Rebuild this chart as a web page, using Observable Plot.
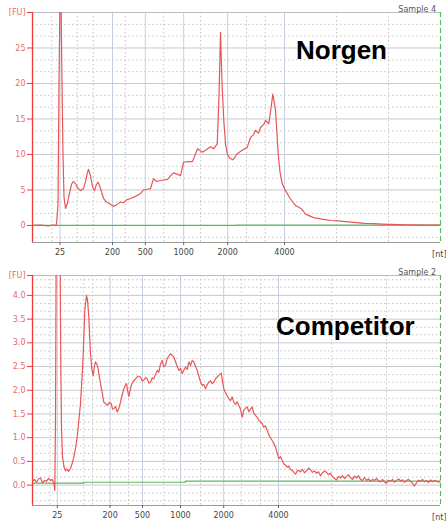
<!DOCTYPE html>
<html>
<head>
<meta charset="utf-8">
<script src="https://cdn.jsdelivr.net/npm/d3@7"></script>
<script src="https://cdn.jsdelivr.net/npm/@observablehq/plot@0.6"></script>
<style>
  body { margin: 0; background: #fff; }
  #wrap { position: relative; width: 446px; height: 522px; overflow: hidden; }
  #wrap svg { display: block; }
  .big { position: absolute; font-family: "Liberation Sans", Arial, sans-serif; font-weight: bold; font-size: 26px; color: #000; line-height: 1; }
  .sample { position: absolute; font-family: "DejaVu Sans", sans-serif; font-size: 8px; color: #555; line-height: 1; }
  .unit { position: absolute; font-family: "DejaVu Sans", sans-serif; font-size: 8px; color: #444; line-height: 1; }
</style>
</head>
<body>
<div id="wrap"></div>
<script>
// ---- Data (x = migration time in seconds, y = fluorescence units) ----
const ladderLabels = ["25", "200", "500", "1000", "2000", "4000"];
const topLadderTime = [22.44, 29.0, 33.1, 37.9, 43.4, 50.5];
const botLadderTime = [22.1, 28.7, 32.75, 37.5, 42.9, 49.75];
const xUnitLabel = "[nt]";

const topMinorTime = [21.4, 24.6, 26.6, 30.6, 35.4, 40.0, 45.75, 48.1, 57.0, 63.5];
const botMinorTime = [21.2, 25.4, 26.5, 31.0, 35.4, 40.0, 45.1, 47.5, 56.4, 63.25];

const topYTicks = [0, 5, 10, 15, 20, 25, 30];
const topYMinor = [-1.67, 1.67, 3.33, 6.67, 8.33, 11.67, 13.33, 16.67, 18.33, 21.67, 23.33, 26.67, 28.33];
const botYTicks = [0, 0.5, 1.0, 1.5, 2.0, 2.5, 3.0, 3.5, 4.0, 4.42];
const botYMinor = [-0.33, -0.17, 0.17, 0.33, 0.67, 0.83, 1.17, 1.33, 1.67, 1.83, 2.17, 2.33, 2.67, 2.83, 3.17, 3.33, 3.67, 3.83, 4.17, 4.33];

// Norgen sample
const norgenTime = [19.0, 20.0, 21.0, 21.63, 22.0, 22.19, 22.31, 22.44, 22.56, 22.69, 22.81, 22.94, 23.13, 23.38, 23.63, 23.88, 24.09, 24.38, 24.63, 25.0, 25.38, 25.63, 25.88, 26.0, 26.25, 26.5, 26.75, 27.0, 27.21, 27.5, 27.88, 28.25, 28.75, 29.13, 29.5, 30.0, 30.38, 30.75, 31.25, 31.88, 32.5, 32.88, 33.38, 33.75, 34.13, 34.5, 34.88, 35.38, 35.88, 36.25, 36.63, 37.13, 37.5, 37.88, 38.38, 39.0, 39.63, 40.25, 40.75, 41.25, 41.63, 42.09, 42.31, 42.5, 42.69, 42.91, 43.13, 43.34, 43.63, 44.04, 44.59, 45.21, 45.84, 46.25, 46.63, 46.88, 47.25, 47.5, 47.88, 48.13, 48.54, 48.81, 49.04, 49.38, 49.71, 49.94, 50.21, 50.63, 51.21, 51.88, 52.63, 53.13, 54.13, 55.38, 56.38, 57.5, 58.5, 59.5, 60.5, 61.63, 62.63, 63.75, 64.75, 65.75, 66.75, 67.75, 68.75, 69.88];
const norgenFU = [0, 0.05, -0.05, 0.05, 0.1, 3, 20, 32, 32, 20, 10, 4, 2.4, 3.2, 4.6, 5.8, 6.2, 5.9, 5.3, 4.9, 5.2, 6.2, 7.5, 7.9, 7.0, 5.5, 4.9, 5.8, 6.1, 5.2, 3.8, 3.3, 3.0, 2.7, 2.9, 3.3, 3.2, 3.6, 3.8, 4.1, 4.5, 5.0, 5.1, 5.2, 6.6, 6.2, 6.3, 6.4, 6.5, 7.0, 7.4, 7.2, 7.0, 8.9, 9.0, 9.0, 10.8, 10.3, 10.7, 11.1, 10.8, 11.5, 18, 27.2, 20, 14.8, 11.5, 10.1, 9.5, 9.25, 10.1, 10.6, 11.0, 12.4, 12.8, 13.4, 13.0, 13.8, 14.2, 14.8, 14.3, 16.5, 18.5, 16.2, 10.1, 7.5, 5.9, 4.9, 3.8, 2.8, 2.35, 1.6, 1.1, 0.85, 0.7, 0.6, 0.5, 0.4, 0.3, 0.25, 0.2, 0.15, 0.12, 0.1, 0.08, 0.05, 0.05, 0.05];
const norgenBaseTime = [19, 44.5, 70];
const norgenBaseFU = [0, 0.06, 0.06];

// Competitor sample
const compTime = [19.0, 19.25, 19.5, 19.75, 20.0, 20.25, 20.5, 20.75, 21.0, 21.25, 21.5, 21.69, 21.79, 21.88, 21.96, 22.19, 22.44, 22.54, 22.63, 22.75, 22.94, 23.13, 23.31, 23.5, 23.75, 24.0, 24.16, 24.38, 24.59, 24.79, 25.0, 25.19, 25.34, 25.54, 25.75, 25.88, 26.04, 26.25, 26.41, 26.59, 26.75, 26.88, 27.04, 27.16, 27.34, 27.5, 27.71, 27.91, 28.13, 28.34, 28.59, 28.84, 29.0, 29.16, 29.38, 29.59, 29.79, 30.0, 30.21, 30.41, 30.75, 30.9, 31.04, 31.34, 31.56, 31.88, 32.19, 32.5, 32.71, 32.91, 33.13, 33.34, 33.54, 33.75, 33.96, 34.16, 34.38, 34.59, 34.79, 35.0, 35.21, 35.41, 35.63, 35.84, 36.04, 36.25, 36.46, 36.66, 36.88, 37.09, 37.29, 37.5, 37.71, 37.91, 38.13, 38.34, 38.54, 38.75, 38.96, 39.16, 39.38, 39.59, 39.79, 40.0, 40.21, 40.41, 40.63, 40.84, 41.04, 41.25, 41.46, 41.66, 41.88, 42.09, 42.31, 42.59, 42.75, 42.91, 43.13, 43.34, 43.54, 43.75, 43.96, 44.16, 44.38, 44.59, 44.79, 45.0, 45.21, 45.41, 45.63, 45.84, 46.04, 46.25, 46.46, 46.66, 46.88, 47.09, 47.29, 47.5, 47.71, 47.91, 48.13, 48.34, 48.54, 48.75, 48.96, 49.16, 49.38, 49.59, 49.79, 50.0, 50.21, 50.41, 50.63, 50.84, 51.04, 51.25, 51.46, 51.66, 51.88, 52.09, 52.29, 52.5, 52.75, 53.0, 53.25, 53.5, 53.75, 54.0, 54.25, 54.5, 54.75, 55.0, 55.25, 55.5, 55.75, 56.0, 56.25, 56.5, 56.75, 57.0, 57.25, 57.5, 57.75, 58.0, 58.25, 58.5, 58.75, 59.0, 59.25, 59.5, 59.75, 60.0, 60.25, 60.5, 60.75, 61.0, 61.25, 61.5, 61.75, 62.0, 62.25, 62.5, 62.75, 63.0, 63.25, 63.5, 63.75, 64.0, 64.25, 64.5, 64.75, 65.0, 65.25, 65.5, 65.75, 66.0, 66.25, 66.5, 66.75, 67.0, 67.25, 67.5, 67.75, 68.0, 68.25, 68.5, 68.75, 69.0, 69.25, 69.5, 69.75, 70.0];
const compFU = [0.08, 0.12, 0.06, 0.13, 0.15, 0.05, 0.1, 0.08, 0.14, 0.1, 0.12, 0.02, -0.11, 1.5, 5, 5, 5, 2.5, 1.2, 0.6, 0.38, 0.3, 0.34, 0.29, 0.35, 0.48, 0.59, 0.78, 1.01, 1.35, 1.72, 2.25, 2.77, 3.69, 4.0, 3.9, 3.54, 2.77, 2.45, 2.31, 2.52, 2.6, 2.55, 2.49, 2.3, 2.14, 1.95, 1.75, 1.72, 1.68, 1.74, 1.72, 1.6, 1.61, 1.66, 1.54, 1.62, 1.75, 1.9, 2.03, 2.14, 1.98, 1.87, 2.1, 2.18, 2.24, 2.3, 2.28, 2.2, 2.21, 2.27, 2.24, 2.15, 2.17, 2.26, 2.24, 2.33, 2.42, 2.38, 2.55, 2.63, 2.5, 2.53, 2.68, 2.72, 2.77, 2.74, 2.7, 2.6, 2.5, 2.42, 2.46, 2.35, 2.42, 2.49, 2.44, 2.6, 2.52, 2.63, 2.6, 2.5, 2.42, 2.3, 2.18, 2.1, 2.12, 2.03, 2.12, 2.17, 2.2, 2.14, 2.17, 2.24, 2.28, 2.32, 2.36, 2.2, 2.03, 1.95, 1.88, 1.82, 1.78, 1.86, 1.75, 1.7, 1.76, 1.68, 1.6, 1.43, 1.58, 1.62, 1.65, 1.55, 1.6, 1.65, 1.52, 1.47, 1.43, 1.36, 1.33, 1.3, 1.22, 1.25, 1.15, 1.06, 1.0, 0.94, 0.88, 0.8, 0.68, 0.56, 0.6, 0.52, 0.45, 0.42, 0.38, 0.4, 0.33, 0.31, 0.27, 0.23, 0.3, 0.31, 0.28, 0.33, 0.26, 0.3, 0.36, 0.32, 0.27, 0.3, 0.25, 0.28, 0.2, 0.26, 0.3, 0.27, 0.22, 0.25, 0.18, 0.14, 0.11, 0.18, 0.15, 0.2, 0.14, 0.18, 0.22, 0.16, 0.12, 0.19, 0.15, 0.2, 0.12, 0.1, 0.16, 0.1, 0.13, 0.08, 0.12, 0.1, 0.14, 0.09, 0.07, 0.12, 0.06, 0.04, 0.1, 0.08, 0.12, 0.06, 0.1, 0.13, 0.09, 0.11, 0.06, 0.1, 0.12, 0.08, 0.04, -0.02, 0.05, 0.1, 0.08, 0.12, 0.07, 0.1, 0.05, 0.11, 0.07, 0.1, 0.08, 0.06, 0.09];
const compBaseTime = [19, 25.4, 38.1, 70];
const compBaseFU = [0.04, 0.06, 0.085, 0.085];

// ---- Drawing ----
const RED_AXIS = "#f03a3a";
const RED_CURVE = "#ea5555";
const RED_TEXT = "#e86a6a";
const GREEN = "#5cb85c";

function panel(o) {
  const ladderMap = new Map(o.ladder.map((t, i) => [t, ladderLabels[i]]));
  const curve = o.time.map((t, i) => ({t, v: o.fu[i]}));
  const base = o.baseT.map((t, i) => ({t, v: o.baseV[i]}));
  const [x0, x1] = [19, 70];
  const [y0, y1] = o.yDomain;
  return Plot.plot({
    width: 446,
    height: o.height,
    marginLeft: 32,
    marginRight: 6,
    marginTop: o.mt,
    marginBottom: o.mb,
    x: {domain: [x0, x1]},
    y: {domain: o.yDomain},
    style: {fontFamily: "DejaVu Sans, sans-serif", fontSize: "8px", background: "#fff", overflow: "visible"},
    marks: [
      Plot.ruleY(o.yMinor, {stroke: "#c4c4c4", strokeDasharray: "1.5,2.5", strokeWidth: 1}),
      Plot.ruleX(o.xMinor, {stroke: "#c4c4c4", strokeDasharray: "1.5,2.5", strokeWidth: 1}),
      Plot.ruleY(o.yTicks.filter(d => d > y0 && d < y1), {stroke: "#c6c9d0", strokeWidth: 1}),
      Plot.ruleX(o.ladder, {stroke: "#c5cfdf", strokeWidth: 1}),
      Plot.ruleY([y1], {stroke: "#b8bcc4"}),
      Plot.ruleY([y0], {stroke: "#9a9a9a"}),
      Plot.line(base, {x: "t", y: "v", stroke: GREEN, strokeWidth: 1.2, curve: "step-after"}),
      Plot.line(curve, {x: "t", y: "v", stroke: RED_CURVE, strokeWidth: 1.2, clip: true}),
      Plot.ruleX([x1], {stroke: GREEN, strokeDasharray: "5,3", strokeWidth: 1.2}),
      Plot.ruleX([x0], {stroke: RED_AXIS, strokeWidth: 1.3}),
      Plot.axisY(o.yTicks, {
        tickFormat: o.yFormat, tickSize: 5, tickPadding: 2,
        stroke: RED_AXIS, fill: RED_TEXT, label: null
      }),
      Plot.axisX(o.ladder, {
        tickFormat: d => ladderMap.get(d), tickSize: 3, tickPadding: 4,
        stroke: "#666", fill: "#444", label: null
      }),
      Plot.text([xUnitLabel], {
        frameAnchor: "bottom-right", text: d => d, dy: 14, dx: 6,
        textAnchor: "end", fill: "#444"
      })
    ]
  });
}

const wrap = document.getElementById("wrap");
wrap.appendChild(panel({
  height: 260, mt: 12, mb: 18, yDomain: [-2.4, 30],
  yTicks: topYTicks, yMinor: topYMinor, xMinor: topMinorTime, ladder: topLadderTime,
  yFormat: d => d === 30 ? "[FU]" : String(d),
  time: norgenTime, fu: norgenFU, baseT: norgenBaseTime, baseV: norgenBaseFU
}));
wrap.appendChild(panel({
  height: 262, mt: 15, mb: 17, yDomain: [-0.43, 4.42],
  yTicks: botYTicks, yMinor: botYMinor, xMinor: botMinorTime, ladder: botLadderTime,
  yFormat: d => d === 4.42 ? "[FU]" : d.toFixed(1),
  time: compTime, fu: compFU, baseT: compBaseTime, baseV: compBaseFU
}));

function addText(cls, txt, left, top, right) {
  const d = document.createElement("div");
  d.className = cls;
  d.textContent = txt;
  if (left != null) d.style.left = left + "px";
  if (right != null) d.style.right = right + "px";
  d.style.top = top + "px";
  wrap.appendChild(d);
}
addText("big", "Norgen", 296, 37);
addText("big", "Competitor", 276, 313);
addText("sample", "Sample 4", null, 6, 10);
addText("sample", "Sample 2", null, 269, 10);
</script>
</body>
</html>
